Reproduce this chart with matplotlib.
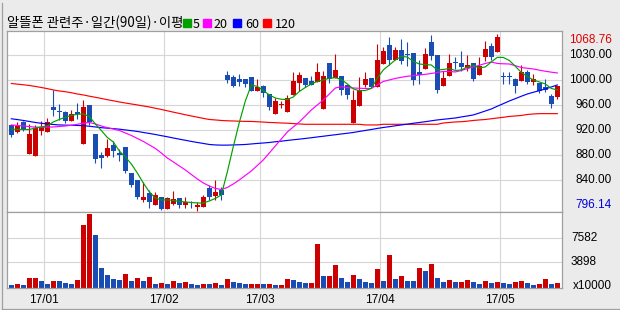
import matplotlib
matplotlib.use("Agg")
import matplotlib.pyplot as plt
import matplotlib.transforms as mtransforms
from matplotlib.patches import Rectangle
import numpy as np

# daily candles, 17/01 ~ 17/05 (price pane)
opens = [927.7, 917.4, 932.8, 883.5, 880.9, 918.4, 917.4, 955.9, 950.2, 947.7,
         934.8, 948.2, 899.3, 958.9, 914.3, 882.4, 880.9, 897.8, 885.5, 894.3,
         854.2, 843.4, 813.1, 823.4, 805.4, 817.2, 799.2, 806.5, 815.7, 805.4,
         804.9, 802.3, 802.3, 831.1, 819.2, 828.5, 1005.6, 1002.1, 999.4, 999.4,
         1002.1, 981.0, 987.7, 976.3, 945.5, 958.5, 948.2, 974.8, 992.8, 1000.5,
         996.4, 994.4, 953.2, 1023.6, 1000.5, 1003.1, 989.3, 931.2, 957.9, 990.2,
         1000.5, 986.7, 1022.1, 1051.8, 1028.7, 1043.6, 1037.5, 1039.0, 1009.8, 1014.9,
         1056.0, 1035.5, 988.7, 1003.1, 1025.2, 1023.6, 1015.9, 1023.6, 1005.6, 1032.9,
         1049.3, 1040.1, 1003.1, 1003.1, 999.0, 995.4, 1009.8, 994.4, 992.8, 986.2,
         973.3, 971.3]
highs = [928.6, 932.8, 934.3, 929.7, 928.1, 934.8, 938.9, 982.5, 960.5, 949.2,
         951.2, 962.0, 967.1, 958.9, 914.3, 886.6, 906.6, 903.5, 891.6, 894.3,
         854.2, 843.4, 840.3, 827.6, 824.9, 817.2, 817.2, 826.0, 815.7, 817.2,
         811.5, 809.5, 820.8, 835.3, 843.9, 832.2, 1010.8, 1004.7, 1007.2, 999.4,
         1002.1, 999.0, 990.2, 976.3, 969.7, 965.6, 973.9, 1009.8, 1009.8, 1000.5,
         1003.1, 1023.6, 1010.8, 1023.6, 1037.5, 1003.1, 990.2, 982.5, 1001.6, 1009.8,
         1000.5, 1052.9, 1047.8, 1063.2, 1047.8, 1060.6, 1056.0, 1039.0, 1028.3, 1046.7,
         1067.5, 1035.5, 1011.8, 1037.5, 1032.4, 1041.6, 1035.5, 1023.6, 1032.9, 1057.0,
         1054.4, 1068.76, 1009.8, 1009.8, 1000.5, 1021.0, 1013.3, 1006.7, 992.8, 999.0,
         975.9, 988.7]
lows = [910.1, 915.8, 919.4, 883.5, 880.9, 913.2, 917.4, 941.5, 936.3, 931.2,
        934.8, 937.8, 899.3, 928.6, 869.6, 861.9, 878.9, 878.9, 872.2, 853.7,
        833.1, 814.6, 809.5, 800.3, 805.4, 797.2, 799.2, 805.4, 800.3, 800.3,
        800.3, 796.14, 802.3, 813.1, 813.1, 813.1, 992.8, 986.2, 987.7, 986.2,
        980.5, 980.0, 971.3, 951.7, 945.5, 954.3, 948.2, 974.8, 980.0, 986.2,
        989.3, 994.4, 953.2, 992.8, 1000.5, 974.8, 968.6, 931.2, 957.9, 986.2,
        986.0, 986.7, 1022.1, 1021.0, 1028.7, 1022.1, 1018.5, 990.2, 991.7, 1014.9,
        1028.7, 977.4, 988.7, 1003.1, 1014.4, 1011.8, 1011.8, 995.4, 1005.6, 1027.2,
        1028.7, 1040.1, 991.7, 991.7, 977.4, 995.4, 991.7, 989.3, 977.4, 978.5,
        954.3, 968.2]
closes = [913.2, 927.1, 920.9, 914.3, 923.5, 924.6, 932.3, 951.2, 948.2, 934.8,
          944.6, 945.5, 955.9, 932.3, 876.2, 877.3, 892.7, 888.6, 881.5, 857.8,
          836.2, 817.2, 817.2, 809.5, 819.9, 799.2, 815.7, 814.2, 804.5, 809.5,
          804.2, 805.4, 817.2, 817.2, 824.9, 819.9, 997.0, 988.7, 994.4, 991.3,
          981.0, 986.7, 977.0, 955.9, 964.6, 960.5, 969.7, 996.4, 1005.6, 990.2,
          990.2, 1009.8, 1003.1, 999.4, 1013.3, 982.5, 974.8, 967.1, 982.5, 999.0,
          986.7, 1028.3, 1042.6, 1028.7, 1043.6, 1027.2, 1035.5, 997.9, 1005.6, 1037.5,
          1034.0, 982.5, 1000.5, 1023.6, 1023.2, 1017.5, 1020.1, 999.4, 1018.5, 1045.2,
          1032.9, 1063.7, 1002.5, 1002.5, 988.7, 1009.8, 994.4, 999.4, 981.0, 981.6,
          960.5, 988.7]

# volume, x10000
volumes = [410, 560, 400, 1470, 1480, 1020, 560, 1020, 1010, 710,
           560, 1170, 9580, 11200, 8010, 2990, 1930, 1320, 1170, 2080,
           1020, 1470, 1020, 1630, 560, 710, 560, 1020, 710, 870,
           560, 410, 560, 550, 710, 410, 1320, 870, 710, 560,
           580, 590, 550, 570, 410, 430, 1320, 1170, 870, 710,
           730, 6640, 1780, 1790, 3450, 1470, 870, 1930, 1320, 870,
           710, 2840, 1020, 4970, 1320, 1780, 1020, 1000, 2990, 2540,
           3600, 1470, 870, 1170, 870, 890, 1170, 870, 560, 1020,
           710, 870, 710, 560, 870, 1020, 710, 410, 560, 1320,
           560, 710]

# moving averages
ma5 = [922.0, 921.2, 921.2, 921.2, 923.5, 925.1, 926.6, 932.8, 936.6, 940.0,
       942.8, 944.6, 945.1, 941.3, 929.7, 919.7, 908.9, 902.0, 888.1, 878.9,
       868.1, 854.2, 838.8, 825.0, 815.7, 812.7, 812.7, 811.9, 810.4, 809.6,
       808.8, 808.0, 808.0, 811.1, 815.0, 820.4, 855.8, 895.0, 932.0, 965.0,
       989.8, 987.5, 981.3, 974.4, 969.7, 967.7, 967.4, 971.3, 979.8, 985.9,
       991.3, 995.2, 997.5, 1000.1, 1001.0, 998.2, 991.3, 983.6, 981.0, 981.3,
       984.4, 1000.5, 1012.9, 1020.6, 1028.3, 1033.6, 1032.9, 1026.0, 1022.1, 1021.0,
       1020.6, 1012.9, 1013.6, 1015.2, 1012.1, 1012.9, 1017.5, 1019.8, 1015.9, 1017.5,
       1025.2, 1032.4, 1032.1, 1027.5, 1018.6, 1009.0, 1002.9, 997.5, 994.4, 991.3,
       984.4, 982.1]
ma20 = [928.2, 927.4, 926.6, 925.7, 924.8, 924.6, 924.8, 925.1, 925.9, 926.6,
        927.7, 929.2, 930.9, 932.0, 929.7, 926.6, 924.0, 922.0, 919.7, 915.8,
        912.0, 907.4, 902.8, 897.4, 892.0, 885.0, 877.3, 871.2, 865.0, 858.9,
        851.9, 845.0, 838.8, 834.2, 830.4, 828.8, 831.9, 837.3, 843.5, 850.4,
        857.3, 865.8, 874.3, 885.0, 895.8, 906.6, 917.4, 925.1, 932.8, 942.0,
        951.3, 959.0, 966.7, 975.9, 985.1, 987.1, 985.9, 985.1, 984.7, 984.4,
        984.4, 989.8, 995.2, 997.5, 999.8, 1001.6, 1003.2, 1004.1, 1005.2, 1006.2,
        1007.5, 1009.0, 1010.6, 1010.6, 1009.8, 1012.1, 1014.9, 1017.5, 1020.1, 1022.9,
        1025.2, 1022.9, 1022.4, 1022.1, 1019.5, 1016.7, 1015.5, 1014.4, 1012.6, 1010.9,
        1009.5, 1008.2]
ma60 = [937.7, 936.5, 935.1, 933.6, 932.0, 930.8, 929.7, 928.9, 928.2, 927.9,
        927.7, 927.4, 927.1, 926.2, 925.1, 924.0, 923.2, 922.5, 921.7, 920.5,
        919.4, 918.2, 916.6, 915.1, 913.5, 911.7, 910.0, 908.1, 906.3, 904.6,
        902.8, 901.2, 899.7, 898.1, 897.4, 897.1, 897.1, 897.4, 897.7, 898.1,
        898.9, 899.7, 900.4, 901.2, 902.3, 903.2, 904.3, 905.4, 906.3, 907.4,
        908.5, 909.7, 910.8, 912.0, 913.1, 914.3, 915.4, 916.6, 918.2, 919.7,
        921.2, 922.8, 924.3, 925.5, 926.9, 928.2, 929.4, 930.8, 932.0, 933.2,
        934.6, 935.9, 936.9, 937.9, 938.9, 940.5, 942.0, 943.6, 946.6, 949.7,
        952.8, 957.0, 961.0, 965.1, 968.7, 972.4, 975.9, 978.5, 981.0, 983.6,
        986.7, 989.8]
ma120 = [992.1, 991.0, 990.1, 989.0, 987.5, 985.9, 984.1, 982.1, 980.5, 979.4,
         977.8, 975.9, 974.4, 972.5, 970.8, 969.0, 967.1, 965.4, 963.6, 962.0,
         960.5, 959.0, 957.4, 955.9, 953.9, 952.0, 950.0, 947.9, 945.9, 943.9,
         942.0, 940.2, 938.3, 936.6, 935.9, 935.1, 934.6, 934.3, 933.9, 933.7,
         933.6, 933.1, 932.6, 932.0, 931.7, 931.2, 930.9, 930.3, 929.7, 929.2,
         929.2, 929.2, 929.2, 929.2, 929.2, 929.2, 929.2, 929.2, 929.2, 928.2,
         928.2, 928.2, 929.2, 929.2, 929.2, 929.2, 929.2, 929.2, 929.2, 929.2,
         929.2, 929.2, 931.2, 932.0, 932.8, 933.2, 934.0, 935.1, 935.9, 936.6,
         937.7, 938.9, 940.0, 941.3, 942.0, 942.8, 944.3, 945.1, 945.6, 945.6,
         945.6, 945.6]

# first candle of each month and its label
month_starts = [6, 26, 42, 62, 82]
month_labels = ["17/01", "17/02", "17/03", "17/04", "17/05"]

price_grid = [1035.5, 997.0, 958.5, 920.0, 881.5, 842.9]
price_grid_labels = ["1030.00", "1000.00", "960.00", "920.00", "880.00", "840.00"]
vol_grid = [3898, 7582]

title = "알뜰폰 관련주·일간(90일)·이평"
ma_names = ["5", "20", "60", "120"]

UP = "#cc0000"
DOWN = "#1a4db3"
MA_COLORS = ["#00a000", "#ff00ff", "#0000ff", "#ff0000"]
GRID = "#d6d6d6"
FRAME = "#a0a0a0"
BG = "#ebebeb"

W, H = 620, 310


def fx(px):
    return px / W


def fy(py):
    return 1 - py / H


plt.rcParams["font.family"] = ["Liberation Sans", "DejaVu Sans"]

fig = plt.figure(figsize=(6.2, 3.1), dpi=100, facecolor=BG)
ax = fig.add_axes([fx(7), fy(212), fx(562) - fx(7), fy(31) - fy(212)])
axv = fig.add_axes([fx(7), fy(288), fx(562) - fx(7), fy(212) - fy(288)])

x = np.arange(len(closes))
o = np.array(opens)
c = np.array(closes)
up = c >= o
colors = np.where(up, UP, DOWN)

for a in (ax, axv):
    a.set_facecolor("white")
    a.set_xlim(-0.72, 91.78)
    a.tick_params(length=0, labelleft=False, labelbottom=False)
    for s in a.spines.values():
        s.set_color(FRAME)
        s.set_linewidth(0.9)
    for m in month_starts:
        a.axvline(m - 0.5, color=GRID, lw=0.8, zorder=0)

# price pane
ax.set_ylim(794.1, 1072.9)
for g in price_grid:
    ax.axhline(g, color=GRID, lw=0.8, zorder=0)

ax.vlines(x, lows, highs, colors=colors, lw=0.8, zorder=2)
body = np.maximum(np.abs(c - o), 1.3)
ax.bar(x, body, bottom=np.minimum(o, c), width=0.78, color=colors,
       linewidth=0, zorder=3)

for series, col in zip([ma120, ma60, ma20, ma5], MA_COLORS[::-1]):
    ax.plot(x, series, color=col, lw=0.85, zorder=4)

# volume pane (red when volume rose from the previous day)
vol = np.array(volumes)
vol_up = np.r_[False, vol[1:] > vol[:-1]]
axv.set_ylim(0, 11500)
for g in vol_grid:
    axv.axhline(g, color=GRID, lw=0.8, zorder=0)
axv.bar(x, vol, width=0.8, color=np.where(vol_up, UP, DOWN), linewidth=0, zorder=2)

# right-hand labels
tr_p = mtransforms.blended_transform_factory(fig.transFigure, ax.transData)
for g, lab in zip(price_grid, price_grid_labels):
    ax.text(fx(612), g, lab, transform=tr_p, ha="right", va="center",
            fontsize=8.5, color="black")
ax.text(fx(612), max(highs), f"{max(highs):.2f}", transform=tr_p, ha="right",
        va="top", fontsize=8.5, color="#e00000")
ax.text(fx(612), min(lows), f"{min(lows):.2f}", transform=tr_p, ha="right",
        va="bottom", fontsize=8.5, color="#0000e0")

tr_v = mtransforms.blended_transform_factory(fig.transFigure, axv.transData)
for g in vol_grid:
    axv.text(fx(571), g, str(g), transform=tr_v, ha="left", va="center",
             fontsize=8.5)
fig.text(fx(612), fy(286), "x10000", ha="right", va="center", fontsize=8.5)

# month labels under the volume pane
tr_d = mtransforms.blended_transform_factory(axv.transData, fig.transFigure)
for m, lab in zip(month_starts, month_labels):
    axv.text(m - 0.5, fy(300), lab, transform=tr_d, ha="center", va="center",
             fontsize=8.5)

# title and MA legend
fig.text(fx(7), fy(27.5), title, ha="left", va="baseline", fontsize=9.6,
         family=["Noto Sans CJK KR", "DejaVu Sans"])
sq_x = [183, 203, 233, 263]
txt_x = [193, 213, 245, 275]
for sx, tx, col, name in zip(sq_x, txt_x, MA_COLORS, ma_names):
    fig.add_artist(Rectangle((fx(sx), fy(27)), 8 / W, 8 / H, color=col,
                             transform=fig.transFigure))
    fig.text(fx(tx), fy(27.5), name, ha="left", va="baseline", fontsize=9,
             family=["Noto Sans CJK KR", "DejaVu Sans"])

# outer frame (left and bottom edges)
fig.add_artist(plt.Line2D([fx(1.5), fx(1.5)], [fy(308.5), fy(3)], color=FRAME,
                          lw=0.9, transform=fig.transFigure))
fig.add_artist(plt.Line2D([fx(1.5), fx(620)], [fy(308.5), fy(308.5)], color=FRAME,
                          lw=0.9, transform=fig.transFigure))

fig.savefig("out.png", dpi=100, facecolor=BG)
